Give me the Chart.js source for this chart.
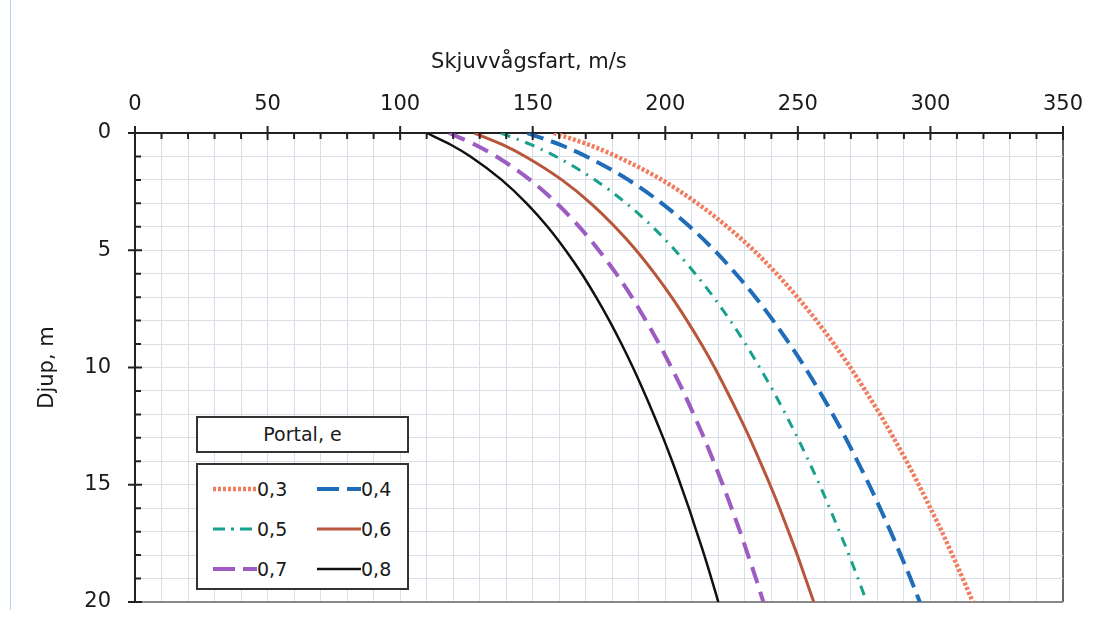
<!DOCTYPE html>
<html lang="sv">
<head>
  <meta charset="UTF-8" />
  <title>Skjuvvågsfart mot djup</title>
  <script src="https://cdn.jsdelivr.net/npm/chart.js"></script>
  <style>
    body {
      margin: 0;
      background: #fff;
      font-family: 'DejaVu Sans', sans-serif;
    }
    .wrap {
      position: relative;
      width: 1107px;
      height: 617px;
    }
    .edge {
      position: absolute;
      left: 10px;
      top: 0;
      width: 0;
      height: 610px;
      border-left: 1px solid #b9d3ec;
    }
    .legend-title, .legend-box {
      position: absolute;
      left: 196px;
      width: 213px;
      background: #fff;
      border: 2px solid #333;
      box-sizing: border-box;
      color: #1a1a1a;
    }
    .legend-title {
      top: 416px;
      height: 37px;
      font-size: 19px;
      text-align: center;
      line-height: 33px;
    }
    .legend-box {
      top: 463px;
      height: 127px;
    }
    .item {
      position: absolute;
      height: 22px;
      font-size: 19px;
      line-height: 22px;
      display: flex;
      align-items: center;
    }
    .item svg { display: block; }
  </style>
</head>
<body>
  <div class="wrap">
    <canvas id="chart" width="1107" height="617"></canvas>
    <div class="edge"></div>
    <div class="legend-title">Portal, e</div>
    <div class="legend-box" id="legend"></div>
  </div>

  <script>
    // depth (m) and shear wave velocity (m/s)
    const depths = [0, 0.5, 1, 2, 3, 4, 5, 6, 7, 8, 9, 10, 11, 12, 13, 14, 15, 16, 17, 18, 19, 20];

    const vs03 = [158, 171.1, 181.7, 198.7, 212.1, 223.4, 233.3, 242.0, 249.8, 257.0, 263.6, 269.8, 275.5, 281.0, 286.1, 291.0, 295.6, 300.0, 304.3, 308.3, 312.2, 316];
    const vs04 = [148, 160.3, 170.2, 186.1, 198.7, 209.3, 218.5, 226.6, 234.0, 240.7, 246.9, 252.7, 258.1, 263.2, 268.0, 272.5, 276.9, 281.0, 285.0, 288.8, 292.5, 296];
    const vs05 = [138, 149.4, 158.7, 173.5, 185.3, 195.2, 203.7, 211.3, 218.2, 224.5, 230.3, 235.6, 240.7, 245.4, 249.9, 254.1, 258.2, 262.0, 265.7, 269.3, 272.7, 276];
    const vs06 = [128, 138.6, 147.2, 161.0, 171.9, 181.0, 189.0, 196.0, 202.4, 208.2, 213.6, 218.6, 223.2, 227.6, 231.8, 235.7, 239.5, 243.1, 246.5, 249.8, 252.9, 256];
    const vs07 = [118.5, 128.3, 136.3, 149.0, 159.1, 167.6, 174.9, 181.5, 187.4, 192.7, 197.7, 202.3, 206.7, 210.7, 214.6, 218.2, 221.7, 225.0, 228.2, 231.2, 234.2, 237];
    const vs08 = [110, 119.1, 126.5, 138.3, 147.7, 155.6, 162.4, 168.5, 173.9, 178.9, 183.5, 187.8, 191.8, 195.6, 199.2, 202.6, 205.8, 208.9, 211.8, 214.7, 217.4, 220];

    const seriesLabels = ['0,3', '0,4', '0,5', '0,6', '0,7', '0,8'];
    const xTickLabels = [0, 50, 100, 150, 200, 250, 300, 350];
    const yTickLabels = [0, 5, 10, 15, 20];

    const styles = [
      { color: '#f07d60', width: 4.5, dash: [3, 2], key: [3, 2] },
      { color: '#1f6cb8', width: 4, dash: [17, 8], key: [22, 8] },
      { color: '#17a08c', width: 3, dash: [10, 7, 2, 7], key: [12, 6, 3, 6] },
      { color: '#b8563c', width: 3, dash: [], key: [] },
      { color: '#9d5cc2', width: 4, dash: [17, 9], key: [22, 8] },
      { color: '#111111', width: 2.5, dash: [], key: [] }
    ];

    const allSeries = [vs03, vs04, vs05, vs06, vs07, vs08];

    const datasets = allSeries.map((vals, i) => ({
      label: seriesLabels[i],
      data: vals.map((v, k) => ({ x: v, y: depths[k] })),
      borderColor: styles[i].color,
      borderWidth: styles[i].width,
      borderDash: styles[i].dash,
      pointRadius: 0,
      fill: false,
      cubicInterpolationMode: 'monotone'
    }));

    // small tick marks on the axes (minor inside, major crossing)
    const axisTicks = {
      id: 'axisTicks',
      afterDraw(chart) {
        const { ctx, chartArea, scales } = chart;
        ctx.save();
        ctx.strokeStyle = '#222';
        ctx.lineWidth = 2;
        ctx.beginPath();
        for (let v = 0; v <= 350; v += 10) {
          const px = scales.x.getPixelForValue(v);
          const major = xTickLabels.includes(v);
          ctx.moveTo(px, chartArea.top - (major ? 7 : 0));
          ctx.lineTo(px, chartArea.top + (major ? 7 : 6));
        }
        for (let d = 0; d <= 20; d += 1) {
          const py = scales.y.getPixelForValue(d);
          const major = yTickLabels.includes(d);
          ctx.moveTo(chartArea.left - (major ? 7 : 0), py);
          ctx.lineTo(chartArea.left + (major ? 7 : 6), py);
        }
        ctx.stroke();
        ctx.restore();
      }
    };

    const fontFamily = "'DejaVu Sans', sans-serif";
    const tickFont = { family: fontFamily, size: 21 };

    // the axis title sits left of centre in the original
    const xTitle = 'Skjuvvågsfart, m/s' + '\u00a0'.repeat(21);

    new Chart(document.getElementById('chart'), {
      type: 'line',
      data: { datasets },
      options: {
        responsive: false,
        animation: false,
        layout: { padding: { left: 0, top: 0, right: 44, bottom: 15 } },
        plugins: {
          legend: { display: false },
          tooltip: { enabled: false }
        },
        scales: {
          x: {
            type: 'linear',
            position: 'top',
            min: 0,
            max: 350,
            afterFit: s => {
              s.height = 133;
              s.paddingLeft = 0;
              s.paddingRight = 0;
            },
            ticks: {
              stepSize: 10,
              autoSkip: false,
              maxRotation: 0,
              padding: 16,
              color: '#1a1a1a',
              font: tickFont,
              callback: v => xTickLabels.includes(v) ? v : ''
            },
            grid: {
              drawTicks: false,
              color: c => c.tick && c.tick.value === 350 ? '#666' : '#d9dfe7',
              lineWidth: c => c.tick && c.tick.value === 350 ? 2 : 1
            },
            border: { display: true, color: '#222', width: 2 },
            title: {
              display: true,
              text: xTitle,
              color: '#1a1a1a',
              font: { family: fontFamily, size: 21 },
              padding: { top: 50, bottom: 0 }
            }
          },
          y: {
            type: 'linear',
            reverse: true,
            min: 0,
            max: 20,
            afterFit: s => {
              s.width = 135;
              s.paddingTop = 0;
              s.paddingBottom = 0;
            },
            ticks: {
              stepSize: 1,
              autoSkip: false,
              padding: 24,
              color: '#1a1a1a',
              font: tickFont,
              callback: v => yTickLabels.includes(v) ? v : ''
            },
            grid: {
              drawTicks: false,
              color: c => c.tick && c.tick.value === 20 ? '#888' : '#d9dfe7',
              lineWidth: c => c.tick && c.tick.value === 20 ? 2 : 1
            },
            border: { display: true, color: '#222', width: 2 },
            title: {
              display: true,
              text: 'Djup, m',
              color: '#1a1a1a',
              font: { family: fontFamily, size: 21 },
              padding: { top: 35, bottom: 0 }
            }
          }
        }
      },
      plugins: [axisTicks]
    });

    // legend entries, two columns
    const legend = document.getElementById('legend');
    const cols = [15, 119];
    seriesLabels.forEach((lab, i) => {
      const st = styles[i];
      const item = document.createElement('div');
      item.className = 'item';
      item.style.left = cols[i % 2] + 'px';
      item.style.top = (13 + Math.floor(i / 2) * 40) + 'px';
      item.innerHTML =
        `<svg width="44" height="12"><line x1="0" y1="6" x2="44" y2="6" stroke="${st.color}" stroke-width="${st.width}" stroke-dasharray="${st.key.join(' ')}"/></svg><span>${lab}</span>`;
      legend.appendChild(item);
    });
  </script>
</body>
</html>
